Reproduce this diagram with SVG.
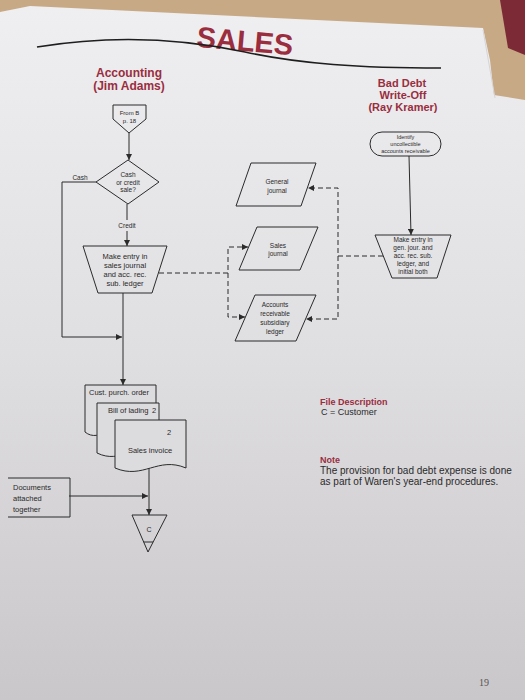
<svg xmlns="http://www.w3.org/2000/svg" width="525" height="700" viewBox="0 0 525 700">
<defs>
<linearGradient id="pg" x1="0" y1="0" x2="0" y2="1">
<stop offset="0" stop-color="#efeef1"/>
<stop offset="0.5" stop-color="#dfdee1"/>
<stop offset="1" stop-color="#cac7ca"/>
</linearGradient>
<marker id="ah" viewBox="0 0 10 10" refX="10" refY="5" markerWidth="6" markerHeight="6" orient="auto" markerUnits="userSpaceOnUse">
<path d="M0,0 L10,5 L0,10 Z" fill="#2b2b2b"/>
</marker>
<style>
.s{fill:none;stroke:#2b2b2b;stroke-width:1}
.d{fill:#dcdbde;stroke:#2b2b2b;stroke-width:1}
.c{fill:none;stroke:#2b2b2b;stroke-width:1}
.dash{fill:none;stroke:#2b2b2b;stroke-width:1;stroke-dasharray:5 3}
.t{font-family:"Liberation Sans",Arial,sans-serif;fill:#2a2a2a;text-anchor:middle}
.tl{font-family:"Liberation Sans",Arial,sans-serif;fill:#2a2a2a}
.h{font-family:"Liberation Sans",Arial,sans-serif;fill:#9a2d3e;font-weight:bold;text-anchor:middle}
.hl{font-family:"Liberation Sans",Arial,sans-serif;fill:#9a2d3e;font-weight:bold}
</style>
</defs>
<rect x="0" y="0" width="525" height="700" fill="#c7a985"/>
<polygon points="500,0 525,0 525,55 508,48" fill="#7c2a35"/>
<polygon points="0,12 30,6 483,28 490,60 494,95 525,100 525,700 0,700" fill="url(#pg)"/>
<line x1="483" y1="30" x2="495" y2="98" stroke="#d6d4d6" stroke-width="1"/>
<g id="title">
<text class="h" x="245" y="51" font-size="29" transform="rotate(5 245 42)">SALES</text>
<path d="M37,47 C110,35 180,38 245,52 C300,64 360,68 441,68" fill="none" stroke="#1e1e1e" stroke-width="1.6"/>
</g>
<g id="header-accounting">
<text class="h" x="129" y="77" font-size="12">Accounting</text>
<text class="h" x="129" y="90" font-size="12">(Jim Adams)</text>
</g>
<g id="header-baddebt">
<text class="h" x="402" y="87" font-size="11">Bad Debt</text>
<text class="h" x="403" y="99" font-size="11">Write-Off</text>
<text class="h" x="403" y="111" font-size="11">(Ray Kramer)</text>
</g>
<g id="connectors">
<line class="c" x1="129" y1="133" x2="129" y2="160" marker-end="url(#ah)"/>
<path class="c" d="M96,182 H62 V337 H122" marker-end="url(#ah)"/>
<line class="c" x1="127" y1="204" x2="127" y2="220"/>
<line class="c" x1="127" y1="231" x2="127" y2="246" marker-end="url(#ah)"/>
<line class="c" x1="123" y1="293" x2="123" y2="385" marker-end="url(#ah)"/>
<line class="c" x1="149" y1="468" x2="149" y2="515" marker-end="url(#ah)"/>
<line class="c" x1="69" y1="496" x2="148" y2="496" marker-end="url(#ah)"/>
<line class="c" x1="409" y1="156" x2="411" y2="235" marker-end="url(#ah)"/>
<path class="dash" d="M159,273 H228 V247 H248" marker-end="url(#ah)"/>
<path class="dash" d="M228,273 V317 H245" marker-end="url(#ah)"/>
<path class="dash" d="M383,256 H338 V188 H308" marker-end="url(#ah)"/>
<path class="dash" d="M338,256 V319 H306" marker-end="url(#ah)"/>
</g>
<g id="from-b">
<polygon class="s" points="113,105 146,105 146,119 129,133 113,119"/>
<text class="t" x="129.5" y="115" font-size="6">From B</text>
<text class="t" x="129.5" y="123" font-size="6">p. 18</text>
</g>
<g id="decision-cash-credit">
<polygon class="s" points="128,160 159,182 128,204 96,182"/>
<text class="t" x="128" y="177" font-size="6.5">Cash</text>
<text class="t" x="128" y="184.5" font-size="6.5">or credit</text>
<text class="t" x="128" y="192" font-size="6.5">sale?</text>
<text class="t" x="80" y="180" font-size="6.5">Cash</text>
<text class="t" x="127" y="228" font-size="6.5">Credit</text>
</g>
<g id="entry-sales-journal">
<polygon class="s" points="83,246 167,246 152,293 98,293"/>
<text class="t" x="125" y="259" font-size="7.5">Make entry in</text>
<text class="t" x="125" y="268" font-size="7.5">sales journal</text>
<text class="t" x="125" y="277" font-size="7.5">and acc. rec.</text>
<text class="t" x="125" y="286" font-size="7.5">sub. ledger</text>
</g>
<g id="general-journal">
<polygon class="s" points="251,163 316,163 301,206 236,206"/>
<text class="t" x="277" y="184" font-size="6.5">General</text>
<text class="t" x="277" y="192.5" font-size="6.5">journal</text>
</g>
<g id="sales-journal">
<polygon class="s" points="257,227 318,227 300,270 239,270"/>
<text class="t" x="278" y="248" font-size="6.5">Sales</text>
<text class="t" x="278" y="256" font-size="6.5">journal</text>
</g>
<g id="ar-ledger">
<polygon class="s" points="255,295 316,295 296,341 235,341"/>
<text class="t" x="275" y="307" font-size="6.5">Accounts</text>
<text class="t" x="275" y="316" font-size="6.5">receivable</text>
<text class="t" x="275" y="325" font-size="6.5">subsidiary</text>
<text class="t" x="275" y="334" font-size="6.5">ledger</text>
</g>
<g id="identify-uncollectible">
<rect class="s" x="370" y="132" width="71" height="24" rx="12"/>
<text class="t" x="405.5" y="138.5" font-size="5.5">Identify</text>
<text class="t" x="405.5" y="145.5" font-size="5.5">uncollectible</text>
<text class="t" x="405.5" y="152.5" font-size="5.5">accounts receivable</text>
</g>
<g id="entry-gen-journal">
<polygon class="s" points="375,235 451,235 437,278 392,278"/>
<text class="t" x="413" y="242" font-size="6.5">Make entry in</text>
<text class="t" x="413" y="250" font-size="6.5">gen. jour. and</text>
<text class="t" x="413" y="258" font-size="6.5">acc. rec. sub.</text>
<text class="t" x="413" y="266" font-size="6.5">ledger, and</text>
<text class="t" x="413" y="274" font-size="6.5">initial both</text>
</g>
<g id="documents-stack">
<path class="d" d="M85,385 H156 V432 C113.4,420 99.6,444 85,432 Z"/>
<text class="tl" x="89" y="395" font-size="7.5">Cust. purch. order</text>
<path class="d" d="M97,403 H159 V453 C134.2,441 121.8,465 97,453 Z"/>
<text class="tl" x="108" y="413" font-size="7.5">Bill of lading</text>
<text class="tl" x="152" y="413" font-size="7.5">2</text>
<path class="d" d="M115,420 H186 V468 C157.6,456 143.4,480 115,468 Z"/>
<text class="tl" x="167" y="435" font-size="7.5">2</text>
<text class="t" x="150" y="453" font-size="7.5">Sales invoice</text>
</g>
<g id="documents-attached">
<path class="s" d="M8,478 H70 V517 H8"/>
<text class="tl" x="13" y="490" font-size="7.5">Documents</text>
<text class="tl" x="13" y="501" font-size="7.5">attached</text>
<text class="tl" x="13" y="512" font-size="7.5">together</text>
</g>
<g id="file-c">
<polygon class="s" points="132,515 167,515 148,552"/>
<line class="s" x1="143.7" y1="542" x2="153.1" y2="542"/>
<text class="t" x="149" y="532" font-size="7">C</text>
</g>
<g id="file-description">
<text class="hl" x="320" y="405" font-size="9">File Description</text>
<text class="tl" x="321" y="415" font-size="9">C = Customer</text>
</g>
<g id="note">
<text class="hl" x="320" y="463" font-size="9">Note</text>
<text class="tl" x="320" y="474" font-size="10">The provision for bad debt expense is done</text>
<text class="tl" x="320" y="485" font-size="10">as part of Waren's year-end procedures.</text>
</g>
<text x="484" y="686" font-family="Liberation Serif,serif" font-size="10" fill="#555" text-anchor="middle">19</text>
</svg>
